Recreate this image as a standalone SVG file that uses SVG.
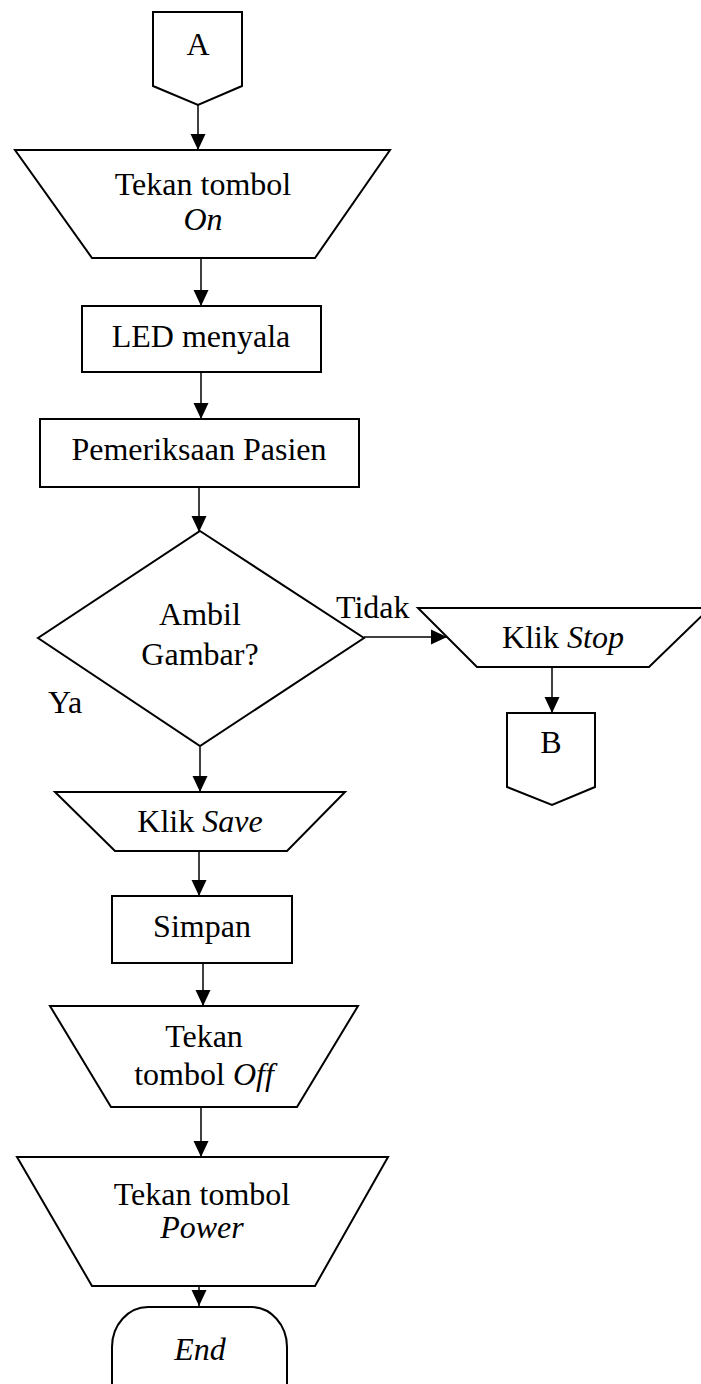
<svg xmlns="http://www.w3.org/2000/svg" width="701" height="1384" viewBox="0 0 701 1384">
  <style>
    .shape { fill: #fff; stroke: #000; stroke-width: 2; stroke-linejoin: miter; }
    .conn { stroke: #000; stroke-width: 1.5; fill: none; marker-end: url(#arrow); }
    text { font-family: 'Liberation Serif', 'DejaVu Serif', serif; font-size: 32px; fill: #000; text-anchor: middle; }
    .it { font-style: italic; }
    .lbl { text-anchor: start; }
  </style>
  <defs>
    <marker id="arrow" markerUnits="userSpaceOnUse" markerWidth="16" markerHeight="16" viewBox="0 0 16 16" refX="16" refY="8" orient="auto">
      <path d="M0,0.5 L16,8 L0,15.5 Z" fill="#000"/>
    </marker>
  </defs>

  <!-- connectors -->
  <g id="connectors">
    <line class="conn" x1="198" y1="105" x2="198" y2="150"/>
    <line class="conn" x1="201" y1="258" x2="201" y2="306"/>
    <line class="conn" x1="201" y1="372" x2="201" y2="419"/>
    <line class="conn" x1="199" y1="487" x2="199" y2="532"/>
    <line class="conn" x1="364" y1="637" x2="447" y2="637"/>
    <line class="conn" x1="552" y1="667" x2="552" y2="713"/>
    <line class="conn" x1="200" y1="747" x2="200" y2="792"/>
    <line class="conn" x1="199" y1="851" x2="199" y2="896"/>
    <line class="conn" x1="203" y1="963" x2="203" y2="1006"/>
    <line class="conn" x1="201" y1="1107" x2="201" y2="1157"/>
    <line class="conn" x1="199" y1="1286" x2="199" y2="1306"/>
    <text class="lbl" font-family="Liberation Serif, DejaVu Serif, serif" x="336" y="618">Tidak</text>
    <text class="lbl" font-family="Liberation Serif, DejaVu Serif, serif" x="48" y="713">Ya</text>
  </g>

  <!-- off-page connector A -->
  <g id="node-a">
    <path class="shape" d="M153,12 H242 V86 L198,105 L153,86 Z"/>
    <text x="198" y="55">A</text>
  </g>

  <g id="node-on">
    <path class="shape" d="M15,150 H390 L315,258 H92 Z"/>
    <text x="203" y="195">Tekan tombol</text>
    <text class="it" x="203" y="230">On</text>
  </g>

  <g id="node-led">
    <rect class="shape" x="82" y="306" width="239" height="66"/>
    <text x="201" y="347">LED menyala</text>
  </g>

  <g id="node-periksa">
    <rect class="shape" x="40" y="419" width="319" height="68"/>
    <text x="199" y="460">Pemeriksaan Pasien</text>
  </g>

  <g id="node-decision">
    <path class="shape" d="M200,531 L364,638 L200,746 L38,638 Z"/>
    <text x="200" y="625">Ambil</text>
    <text x="200" y="665">Gambar?</text>
  </g>

  <g id="node-stop">
    <path class="shape" d="M418,608 H710 L649,667 H477 Z"/>
    <text x="563" y="648">Klik <tspan class="it">Stop</tspan></text>
  </g>

  <g id="node-b">
    <path class="shape" d="M507,713 H595 V787 L552,805 L507,787 Z"/>
    <text x="551" y="753">B</text>
  </g>

  <g id="node-save">
    <path class="shape" d="M55,792 H345 L287,851 H115 Z"/>
    <text x="200" y="832">Klik <tspan class="it">Save</tspan></text>
  </g>

  <g id="node-simpan">
    <rect class="shape" x="112" y="896" width="180" height="67"/>
    <text x="202" y="937">Simpan</text>
  </g>

  <g id="node-off">
    <path class="shape" d="M50,1006 H358 L297,1107 H111 Z"/>
    <text x="204" y="1047">Tekan</text>
    <text x="204" y="1085">tombol <tspan class="it">Off</tspan></text>
  </g>

  <g id="node-power">
    <path class="shape" d="M17,1157 H388 L315,1286 H92 Z"/>
    <text x="202" y="1205">Tekan tombol</text>
    <text class="it" x="202" y="1238">Power</text>
  </g>

  <g id="node-end">
    <rect class="shape" x="112" y="1307" width="175" height="120" rx="36" ry="40"/>
    <text class="it" x="200" y="1360">End</text>
  </g>
</svg>
